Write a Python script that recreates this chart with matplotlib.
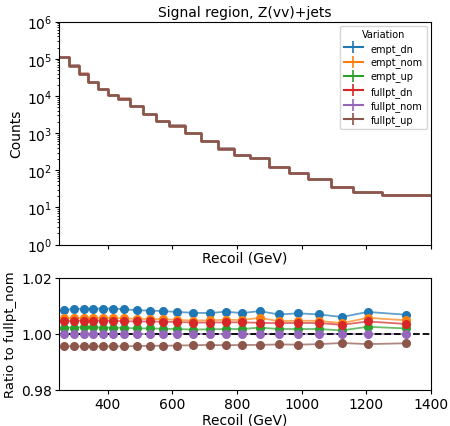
import numpy as np
import matplotlib
matplotlib.use("Agg")
import matplotlib.pyplot as plt
from matplotlib.lines import Line2D

# recoil binning (GeV)
edges = np.array([250, 280, 310, 340, 370, 400, 430, 470, 510, 550, 590, 640,
                  690, 740, 790, 840, 900, 960, 1020, 1090, 1160, 1250, 1400])

# nominal counts (fullpt_nom)
counts_nom = np.array([1.1e5, 6.6e4, 4.0e4, 2.4e4, 1.57e4, 1.04e4, 8.5e3, 5.3e3,
                       3.2e3, 2.1e3, 1.6e3, 980, 610, 385, 257, 210, 125, 83,
                       57, 36, 26, 22])

variations = ["empt_dn", "empt_nom", "empt_up", "fullpt_dn", "fullpt_nom", "fullpt_up"]

# ratio of each variation to fullpt_nom, read per bin
ratio_empt_dn = [1.0086, 1.0088, 1.0090, 1.0090, 1.0090, 1.0090, 1.0088, 1.0084,
                 1.0083, 1.0081, 1.0078, 1.0075, 1.0074, 1.0079, 1.0074, 1.0081,
                 1.0069, 1.0073, 1.0069, 1.0060, 1.0078, 1.0068]
ratio_empt_nom = [1.0055, 1.0056, 1.0057, 1.0057, 1.0057, 1.0056, 1.0055, 1.0053,
                  1.0053, 1.0052, 1.0050, 1.0047, 1.0048, 1.0050, 1.0049, 1.0057,
                  1.0045, 1.0047, 1.0046, 1.0038, 1.0057, 1.0048]
ratio_empt_up = [1.0022, 1.0022, 1.0023, 1.0023, 1.0022, 1.0022, 1.0021, 1.0019,
                 1.0019, 1.0018, 1.0017, 1.0015, 1.0016, 1.0017, 1.0017, 1.0022,
                 1.0017, 1.0017, 1.0017, 1.0012, 1.0025, 1.0019]
ratio_fullpt_dn = [1.0045, 1.0046, 1.0047, 1.0047, 1.0047, 1.0046, 1.0045, 1.0044,
                   1.0044, 1.0043, 1.0042, 1.0040, 1.0040, 1.0041, 1.0041, 1.0039,
                   1.0038, 1.0039, 1.0038, 1.0032, 1.0044, 1.0035]
ratio_fullpt_nom = [1.0] * 22
ratio_fullpt_up = [0.9956, 0.9955, 0.9955, 0.9955, 0.9955, 0.9955, 0.9955, 0.9956,
                   0.9957, 0.9957, 0.9958, 0.9959, 0.9960, 0.9959, 0.9960, 0.9960,
                   0.9962, 0.9961, 0.9963, 0.9967, 0.9963, 0.9966]

ratios = [ratio_empt_dn, ratio_empt_nom, ratio_empt_up,
          ratio_fullpt_dn, ratio_fullpt_nom, ratio_fullpt_up]

colors = plt.rcParams['axes.prop_cycle'].by_key()['color'][:6]
centers = 0.5 * (edges[1:] + edges[:-1])

plt.rcParams['xtick.major.size'] = 3
plt.rcParams['ytick.major.size'] = 3
plt.rcParams['xtick.major.pad'] = 2
plt.rcParams['ytick.major.pad'] = 2
plt.rcParams['ytick.minor.size'] = 1.5

fig = plt.figure(figsize=(4.5, 4.27), dpi=100)
ax = fig.add_axes([0.132, 0.425, 0.825, 0.522])
rax = fig.add_axes([0.132, 0.085, 0.825, 0.262])

handles = []
for i, (name, r, c) in enumerate(zip(variations, ratios, colors)):
    vals = counts_nom * np.array(r)
    # all variations overlap on a log scale; the last one ends up on top
    lw = 1.9 if i == len(variations) - 1 else 1.0
    ax.step(edges, np.append(vals, vals[-1]), where='post', color=c, lw=lw)
    handles.append(Line2D([], [], color=c, marker='|', markersize=9,
                          markeredgewidth=1.2, lw=1.5, label=name))

ax.set_yscale('log')
ax.set_ylim(1, 1e6)
ax.set_xlim(250, 1400)
ax.set_xticks([400, 600, 800, 1000, 1200, 1400])
ax.tick_params(labelbottom=False)
ax.set_xlabel('Recoil (GeV)', labelpad=1)
ax.set_ylabel('Counts', labelpad=3)
ax.set_title('Signal region, Z(vv)+jets', fontsize=10, pad=4)
ax.legend(handles=handles, title='Variation', fontsize=7, title_fontsize=7,
          loc='upper right', borderaxespad=0.4, labelspacing=0.35)

for name, r, c in zip(variations, ratios, colors):
    rax.plot(centers, r, color=c, lw=1.3, alpha=0.7, zorder=2)
rax.axhline(1.0, color='k', ls='--', lw=1.3, zorder=3)
for name, r, c in zip(variations, ratios, colors):
    rax.plot(centers, r, 'o', color=c, markersize=5.5, zorder=4)

rax.set_xlim(250, 1400)
rax.set_ylim(0.98, 1.02)
rax.set_yticks([0.98, 1.00, 1.02])
rax.set_xticks([400, 600, 800, 1000, 1200, 1400])
rax.set_xlabel('Recoil (GeV)', labelpad=1)
rax.set_ylabel('Ratio to fullpt_nom', labelpad=3, fontsize=9.5)

plt.savefig('out.png', dpi=100)
